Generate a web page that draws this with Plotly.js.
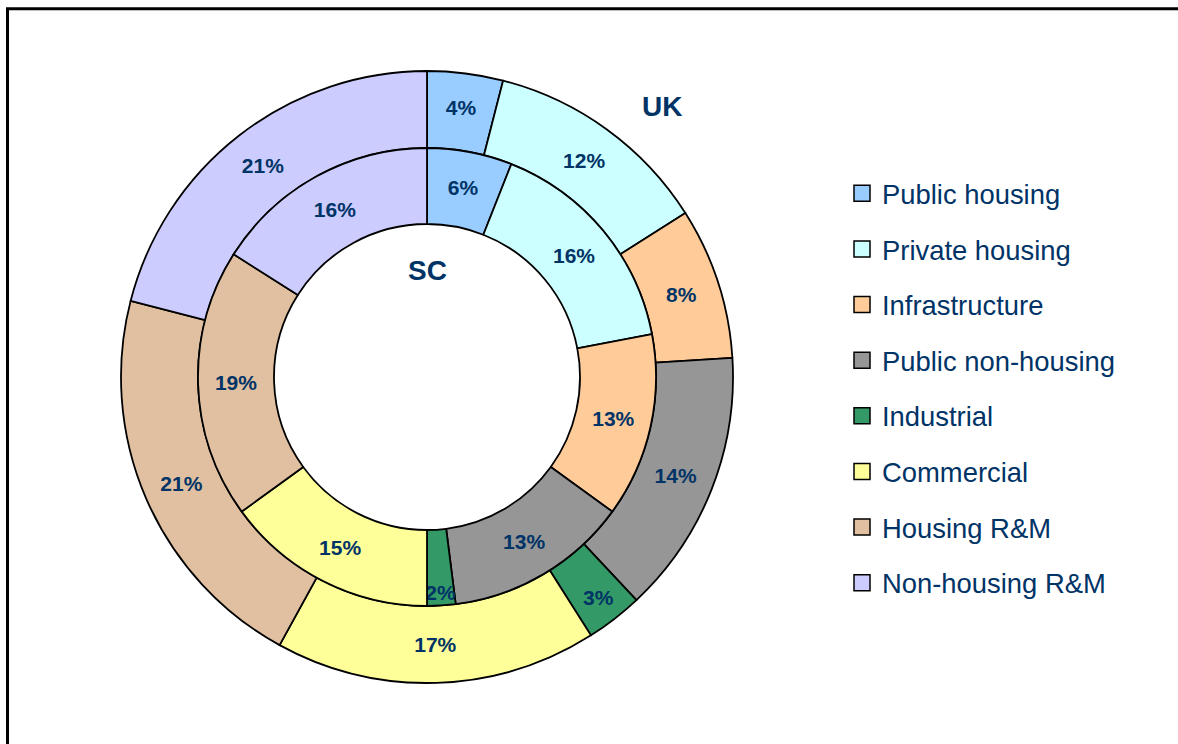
<!DOCTYPE html>
<html>
<head>
<meta charset="utf-8">
<script src="https://cdn.plot.ly/plotly-3.0.1.min.js"></script>
<style>html,body{margin:0;padding:0;background:#fff;}#chart{width:1178px;height:744px;}</style>
</head>
<body>
<div id="chart"></div>
<script>
// ---- data ----
var categories = ["Public housing", "Private housing", "Infrastructure", "Public non-housing",
                  "Industrial", "Commercial", "Housing R&M", "Non-housing R&M"];
var ukValues = [4, 12, 8, 14, 3, 17, 21, 21];
var scValues = [6, 16, 13, 13, 2, 15, 19, 16];
var colors = ["#99CCFF", "#CCFFFF", "#FFCC99", "#969696", "#339966", "#FFFF99", "#E0C0A0", "#CCCCFF"];
var ringNames = ["UK", "SC"];

// ---- layout geometry (pixels) ----
var W = 1178, H = 744;
var cx = 427, cy = 377;
var rOuter = 306, rMid = 229, rHole = 153;
function dom(r) {
  return {
    x: [(cx - r) / W, (cx + r) / W],
    y: [(H - cy - r) / H, (H - cy + r) / H]
  };
}
var navy = "#003366";
var font = "Liberation Sans, Arial, sans-serif";

function ring(values, name, r, hole) {
  return {
    type: "pie",
    name: name,
    labels: categories,
    values: values,
    sort: false,
    direction: "clockwise",
    rotation: 0,
    hole: hole,
    domain: dom(r),
    marker: { colors: colors, line: { color: "#000", width: 1.8 } },
    textinfo: "percent",
    texttemplate: "%{value}%",
    textposition: "inside",
    insidetextorientation: "horizontal",
    textfont: { family: font, size: 21, color: navy, weight: "bold" },
    showlegend: false,
    hoverinfo: "label+percent+name"
  };
}

var traces = [
  ring(ukValues, ringNames[0], rOuter, rMid / rOuter),
  ring(scValues, ringNames[1], rMid, rHole / rMid)
];

// legend entries (no plotted points)
categories.forEach(function (c, i) {
  traces.push({
    type: "scatter",
    mode: "markers",
    x: [null], y: [null],
    name: c,
    legendgroup: "g" + i,
    marker: { symbol: "square", size: 16, color: colors[i], line: { color: "#000", width: 1.5 } },
    hoverinfo: "skip"
  });
});

var layout = {
  width: W, height: H,
  margin: { l: 0, r: 0, t: 0, b: 0 },
  paper_bgcolor: "#fff",
  plot_bgcolor: "rgba(0,0,0,0)",
  xaxis: { visible: false, fixedrange: true },
  yaxis: { visible: false, fixedrange: true },
  showlegend: true,
  legend: {
    x: 842 / W, xanchor: "left",
    y: (H - 169) / H, yanchor: "top",
    traceorder: "grouped",
    tracegroupgap: 17,
    font: { family: font, size: 27.4, color: navy },
    bgcolor: "rgba(0,0,0,0)"
  },
  uniformtext: { minsize: 21, mode: "show" },
  annotations: [
    { xref: "paper", yref: "paper", x: 662 / W, y: (H - 107) / H, xanchor: "center", yanchor: "middle",
      text: ringNames[0], showarrow: false,
      font: { family: font, size: 28, color: navy, weight: "bold" } },
    { xref: "paper", yref: "paper", x: 427 / W, y: (H - 270) / H, xanchor: "center", yanchor: "middle",
      text: ringNames[1], showarrow: false,
      font: { family: font, size: 28, color: navy, weight: "bold" } }
  ],
  shapes: [
    { type: "rect", xref: "paper", yref: "paper", layer: "above",
      x0: 7.5 / W, x1: 1.02, y0: -0.02, y1: (H - 8.7) / H,
      line: { color: "#000", width: 3 }, fillcolor: "rgba(0,0,0,0)" }
  ]
};

Plotly.newPlot("chart", traces, layout, { displayModeBar: false, staticPlot: true });
</script>
</body>
</html>
